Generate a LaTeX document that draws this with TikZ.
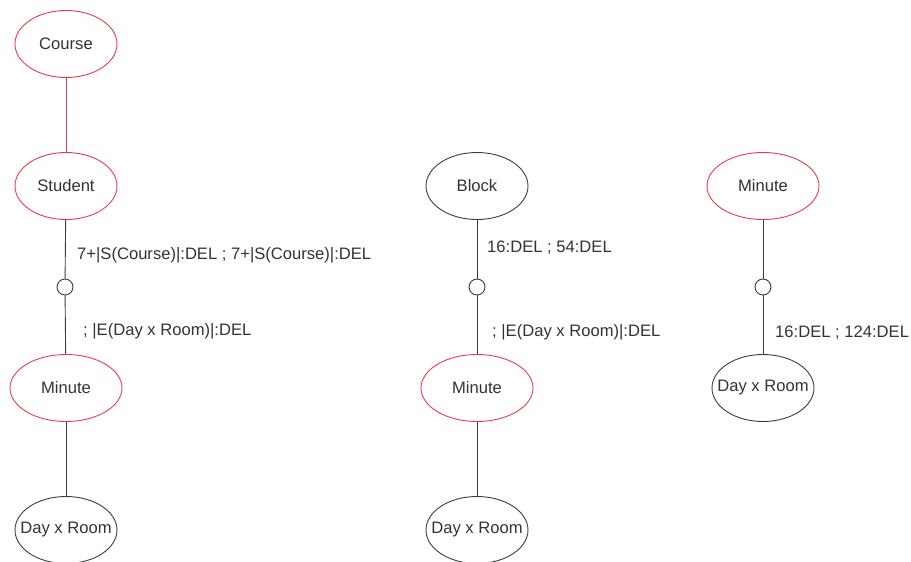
\documentclass[tikz,border=0pt]{standalone}
\usepackage{fontspec}
\setmainfont{Liberation Sans}
\usetikzlibrary{shapes.geometric}
\definecolor{entred}{RGB}{226,62,74}
\definecolor{inkgrey}{RGB}{51,51,51}
\definecolor{linegrey}{RGB}{60,60,60}
% entity names may overhang the ellipse padding, so they take no width
\newcommand{\entname}[1]{\makebox[0pt][c]{#1}}
\begin{document}
\begin{tikzpicture}[x=1pt,y=-1pt,
  every node/.style={font=\fontsize{16.6}{20}\selectfont, text=inkgrey},
  ent/.style={ellipse, draw=linegrey, line width=0.9pt, minimum width=102pt,
    minimum height=67pt, inner sep=0pt, fill=white},
  keyent/.style={ent, draw=entred},
  wide/.style={minimum width=112pt},
  joint/.style={circle, draw=linegrey, line width=0.9pt, minimum size=16pt,
    inner sep=0pt, fill=white},
  link/.style={draw=linegrey, line width=0.9pt},
  redlink/.style={draw=entred, line width=0.9pt},
  tag/.style={anchor=west, inner sep=0pt}
]
\useasboundingbox (0,0) rectangle (911,562);

% left chain
\node[keyent] (course) at (66,44) {\entname{Course}};
\node[keyent] (student) at (66,186) {\entname{Student}};
\node[joint] (j1) at (65,287) {};
\node[keyent, wide] (min1) at (66,388) {\entname{Minute}};
\node[ent] (dxr1) at (66,530) {\entname{Day x Room}};

% middle chain
\node[ent] (block) at (477,186) {\entname{Block}};
\node[joint] (j2) at (477,287) {};
\node[keyent, wide] (min2) at (477,388) {\entname{Minute}};
\node[ent] (dxr2) at (477,530) {\entname{Day x Room}};

% right chain
\node[keyent, wide] (min3) at (763,186) {\entname{Minute}};
\node[joint] (j3) at (763,287) {};
\node[ent] (dxr3) at (763,388) {\entname{Day x Room}};

% connectors
\draw[redlink] (course) -- (student);
\draw[link] (student) -- (j1);
\draw[link] (j1) -- (min1);
\draw[link] (min1) -- (dxr1);
\draw[link] (block) -- (j2);
\draw[link] (j2) -- (min2);
\draw[link] (min2) -- (dxr2);
\draw[link] (min3) -- (j3);
\draw[link] (j3) -- (dxr3);

% cardinality labels
\node[tag] (t1) at (77,255) {7+|S(Course)|:DEL ; 7+|S(Course)|:DEL};
\node[tag] (t2) at (83,331) {; |E(Day x Room)|:DEL};
\node[tag] (t3) at (487,248) {16:DEL ; 54:DEL};
\node[tag] (t4) at (492,332) {; |E(Day x Room)|:DEL};
\node[tag] (t5) at (775,333) {16:DEL ; 124:DEL};
\end{tikzpicture}
\end{document}
